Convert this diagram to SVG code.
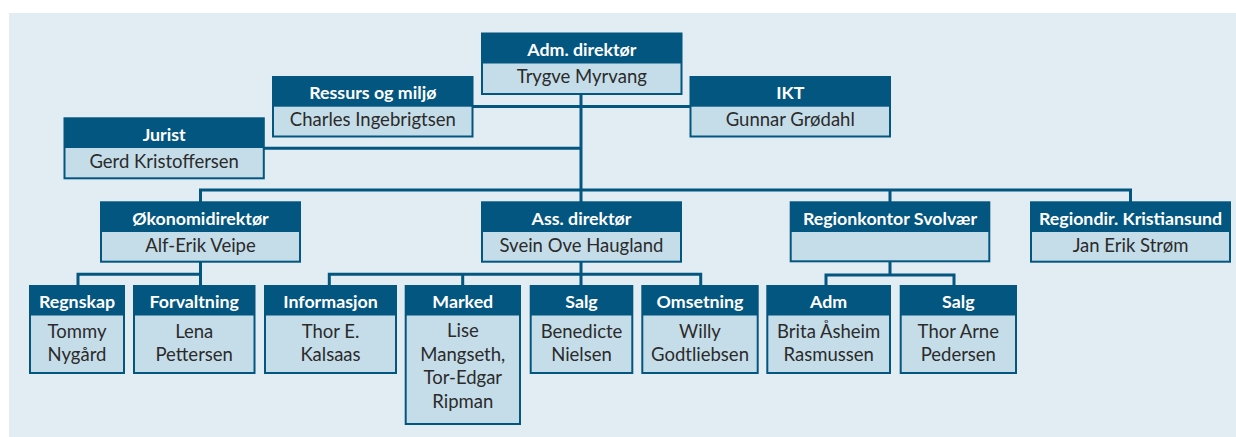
<svg xmlns="http://www.w3.org/2000/svg" width="1236" height="437" viewBox="0 0 1236 437">
<style>
.bg{fill:#e1ecf3}
.bx{fill:#c5dde9;stroke:#03567f;stroke-width:2}
.hd{fill:#03567f}
.ht{font-family:Lato,"Liberation Sans",sans-serif;font-weight:bold;font-size:17.8px;fill:#ffffff;text-anchor:middle}
.bt{font-family:Lato,"Liberation Sans",sans-serif;font-size:18.5px;fill:#2b2b2b;text-anchor:middle}
.ln{fill:none;stroke:#03567f;stroke-width:3;stroke-linecap:butt}
</style>
<rect class="bg" x="9" y="13" width="1227" height="424"/>
<g id="connectors">
<path class="ln" d="M581 94V202"/>
<path class="ln" d="M472.5 106.5H690.5"/>
<path class="ln" d="M264 148.3H581"/>
<path class="ln" d="M200.5 202V190H1130.5V202M890 190V202"/>
<path class="ln" d="M200.5 262V286M78 286V274.3H200.5"/>
<path class="ln" d="M581 262V286M329.3 286V274.3H700.7V286M462.7 274.3V286"/>
<path class="ln" d="M890 261V275M826 286V275H954V286"/>
</g>
<g id="adm-direktor">
<rect class="bx" x="482" y="33.5" width="199.5" height="60.5"/>
<rect class="hd" x="482" y="33.5" width="199.5" height="30"/>
<text class="ht" x="581.8" y="55.5">Adm. direktør</text>
<text class="bt" x="581.8" y="83">Trygve Myrvang</text>
</g>
<g id="ressurs">
<rect class="bx" x="273" y="77" width="199.5" height="59.5"/>
<rect class="hd" x="273" y="77" width="199.5" height="29.7"/>
<text class="ht" x="372.8" y="99">Ressurs og miljø</text>
<text class="bt" x="372.8" y="126">Charles Ingebrigtsen</text>
</g>
<g id="ikt">
<rect class="bx" x="690.5" y="77" width="199.5" height="59.5"/>
<rect class="hd" x="690.5" y="77" width="199.5" height="29.7"/>
<text class="ht" x="790.3" y="99">IKT</text>
<text class="bt" x="790.3" y="126">Gunnar Grødahl</text>
</g>
<g id="jurist">
<rect class="bx" x="64.5" y="118.3" width="199.3" height="60"/>
<rect class="hd" x="64.5" y="118.3" width="199.3" height="29.7"/>
<text class="ht" x="164.2" y="140.5">Jurist</text>
<text class="bt" x="164.2" y="167.5">Gerd Kristoffersen</text>
</g>
<g id="okonomidirektor">
<rect class="bx" x="101" y="202.3" width="199" height="59.4"/>
<rect class="hd" x="101" y="202.3" width="199" height="29.7"/>
<text class="ht" x="200.5" y="224.5">Økonomidirektør</text>
<text class="bt" x="200.5" y="251.5">Alf-Erik Veipe</text>
</g>
<g id="ass-direktor">
<rect class="bx" x="482" y="202.3" width="199" height="59.4"/>
<rect class="hd" x="482" y="202.3" width="199" height="29.7"/>
<text class="ht" x="581.5" y="224.5">Ass. direktør</text>
<text class="bt" x="581.5" y="251.5">Svein Ove Haugland</text>
</g>
<g id="regionkontor">
<rect class="bx" x="790.7" y="202.3" width="198.6" height="59"/>
<rect class="hd" x="790.7" y="202.3" width="198.6" height="29.7"/>
<text class="ht" x="890" y="224.5">Regionkontor Svolvær</text>
</g>
<g id="regiondir">
<rect class="bx" x="1031" y="202.3" width="199" height="59.4"/>
<rect class="hd" x="1031" y="202.3" width="199" height="29.7"/>
<text class="ht" x="1130.5" y="224.5">Regiondir. Kristiansund</text>
<text class="bt" x="1130.5" y="251.5">Jan Erik Strøm</text>
</g>
<g id="regnskap">
<rect class="bx" x="30" y="286" width="94" height="87"/>
<rect class="hd" x="30" y="286" width="94" height="29.5"/>
<text class="ht" x="77" y="307.5">Regnskap</text>
<text class="bt" x="77" y="337.5">Tommy</text>
<text class="bt" x="77" y="360.5">Nygård</text>
</g>
<g id="forvaltning">
<rect class="bx" x="134" y="286" width="120.5" height="87"/>
<rect class="hd" x="134" y="286" width="120.5" height="29.5"/>
<text class="ht" x="194.2" y="307.5">Forvaltning</text>
<text class="bt" x="194.2" y="337.5">Lena</text>
<text class="bt" x="194.2" y="360.5">Pettersen</text>
</g>
<g id="informasjon">
<rect class="bx" x="265" y="286" width="131" height="87"/>
<rect class="hd" x="265" y="286" width="131" height="29.5"/>
<text class="ht" x="330.5" y="307.5">Informasjon</text>
<text class="bt" x="330.5" y="337.5">Thor E.</text>
<text class="bt" x="330.5" y="360.5">Kalsaas</text>
</g>
<g id="marked">
<rect class="bx" x="405.7" y="286" width="114.3" height="138"/>
<rect class="hd" x="405.7" y="286" width="114.3" height="29.5"/>
<text class="ht" x="462.8" y="307.5">Marked</text>
<text class="bt" x="462.8" y="337">Lise</text>
<text class="bt" x="462.8" y="360.5">Mangseth,</text>
<text class="bt" x="462.8" y="384">Tor-Edgar</text>
<text class="bt" x="462.8" y="407.5">Ripman</text>
</g>
<g id="salg-ass">
<rect class="bx" x="530.7" y="286" width="101.6" height="87"/>
<rect class="hd" x="530.7" y="286" width="101.6" height="29.5"/>
<text class="ht" x="581.5" y="307.5">Salg</text>
<text class="bt" x="581.5" y="337.5">Benedicte</text>
<text class="bt" x="581.5" y="360.5">Nielsen</text>
</g>
<g id="omsetning">
<rect class="bx" x="642.3" y="286" width="115.4" height="87"/>
<rect class="hd" x="642.3" y="286" width="115.4" height="29.5"/>
<text class="ht" x="700" y="307.5">Omsetning</text>
<text class="bt" x="700" y="337.5">Willy</text>
<text class="bt" x="700" y="360.5">Godtliebsen</text>
</g>
<g id="adm-region">
<rect class="bx" x="767.3" y="286" width="122.7" height="87"/>
<rect class="hd" x="767.3" y="286" width="122.7" height="29.5"/>
<text class="ht" x="828.7" y="307.5">Adm</text>
<text class="bt" x="828.7" y="337.5">Brita Åsheim</text>
<text class="bt" x="828.7" y="360.5">Rasmussen</text>
</g>
<g id="salg-region">
<rect class="bx" x="900.7" y="286" width="115.3" height="87"/>
<rect class="hd" x="900.7" y="286" width="115.3" height="29.5"/>
<text class="ht" x="958.3" y="307.5">Salg</text>
<text class="bt" x="958.3" y="337.5">Thor Arne</text>
<text class="bt" x="958.3" y="360.5">Pedersen</text>
</g>
</svg>
